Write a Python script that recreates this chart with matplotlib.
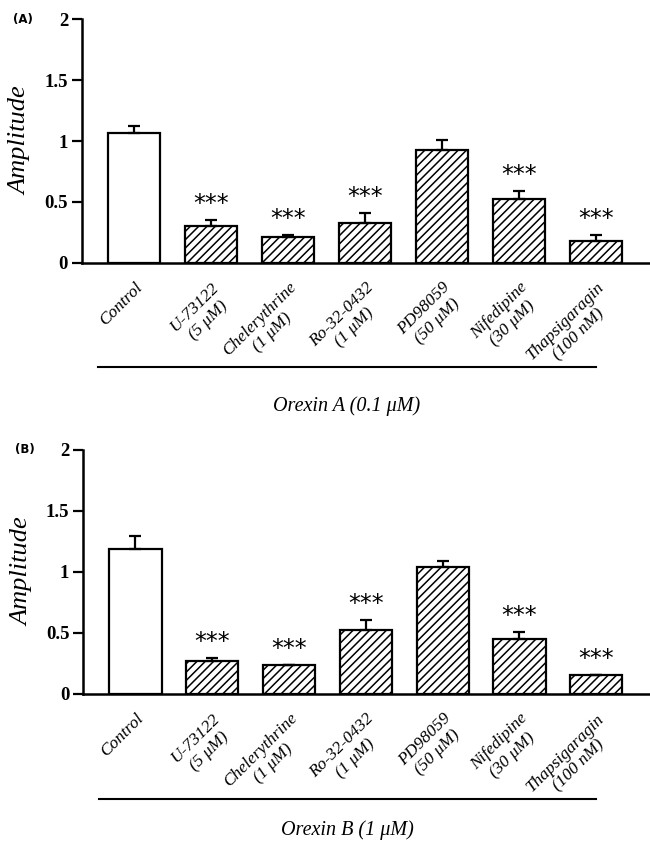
import numpy as np
import matplotlib
matplotlib.use("Agg")
from matplotlib import pyplot as plt

# values
labels = ["Control", "U-73122\n(5 \u03bcM)", "Chelerythrine\n(1 \u03bcM)",
          "Ro-32-0432\n(1 \u03bcM)", "PD98059\n(50 \u03bcM)", "Nifedipine\n(30 \u03bcM)",
          "Thapsigaragin\n(100 nM)"]

ampA = [1.07, 0.30, 0.21, 0.325, 0.93, 0.52, 0.175]
errA = [0.055, 0.05, 0.02, 0.085, 0.075, 0.07, 0.055]
starsA = [False, True, True, True, False, True, True]

ampB = [1.19, 0.27, 0.24, 0.52, 1.04, 0.45, 0.155]
errB = [0.105, 0.025, 0.0, 0.085, 0.05, 0.055, 0.0]
starsB = [False, True, True, True, False, True, True]

yticks = [0, 0.5, 1, 1.5, 2]
yticklabels = ["0", "0.5", "1", "1.5", "2"]

plt.rcParams['font.family'] = ['Liberation Serif', 'DejaVu Serif']
plt.rcParams['hatch.linewidth'] = 1.1


def drawPanel(ax, amp, err, stars, tag, group, groupY):
    x = np.arange(len(amp))
    hatches = [''] + ['////'] * (len(amp) - 1)
    bars = ax.bar(x, amp, width=0.68, color='white', edgecolor='black', linewidth=1.6, zorder=2)
    for b, h in zip(bars, hatches):
        b.set_hatch(h)
    yerr = np.array([np.zeros(len(err)), err])
    ax.errorbar(x, amp, yerr=yerr, fmt='none', ecolor='black', elinewidth=1.6,
                capsize=4.5, capthick=1.6, zorder=3)
    for i in range(len(amp)):
        if stars[i]:
            ax.text(x[i], amp[i] + err[i] + 0.13, "***", ha='center', va='center',
                    fontsize=17, family='DejaVu Sans')

    ax.set_xlim(-0.68, 6.7)
    ax.set_ylim(0, 2)
    ax.spines['top'].set_visible(False)
    ax.spines['right'].set_visible(False)
    ax.spines['left'].set_linewidth(1.8)
    ax.spines['bottom'].set_linewidth(1.8)
    ax.set_yticks(yticks)
    ax.set_yticklabels(yticklabels, fontsize=13.5, fontweight='bold')
    ax.tick_params(axis='y', length=7, width=1.6, pad=3)
    ax.set_xticks(x)
    ax.set_xticklabels(labels, rotation=45, ha='right', rotation_mode='anchor',
                       fontsize=12.5, style='italic', multialignment='center')
    ax.tick_params(axis='x', length=0, pad=12)
    ax.set_ylabel("Amplitude", fontsize=19, style='italic')
    ax.yaxis.set_label_coords(-0.088, 0.5)

    trans = ax.get_xaxis_transform()
    ax.plot([-0.47, 6.0], [-0.43, -0.43], color='black', linewidth=1.5,
            transform=trans, clip_on=False)
    ax.text(2.76, groupY, group, transform=trans, ha='center', va='center',
            fontsize=14.5, style='italic')
    ax.text(-0.121, 1.0, tag, transform=ax.transAxes, ha='left', va='center',
            fontsize=8.5, fontweight='bold', family='DejaVu Sans')


fig = plt.figure(figsize=(6.5, 8.42), dpi=100)
axA = fig.add_axes([0.126, 0.688, 0.874, 0.289])
axB = fig.add_axes([0.128, 0.176, 0.872, 0.290])

drawPanel(axA, ampA, errA, starsA, "(A)", "Orexin A (0.1 \u03bcM)", -0.59)
drawPanel(axB, ampB, errB, starsB, "(B)", "Orexin B (1 \u03bcM)", -0.56)

fig.savefig("out.png", dpi=100)
